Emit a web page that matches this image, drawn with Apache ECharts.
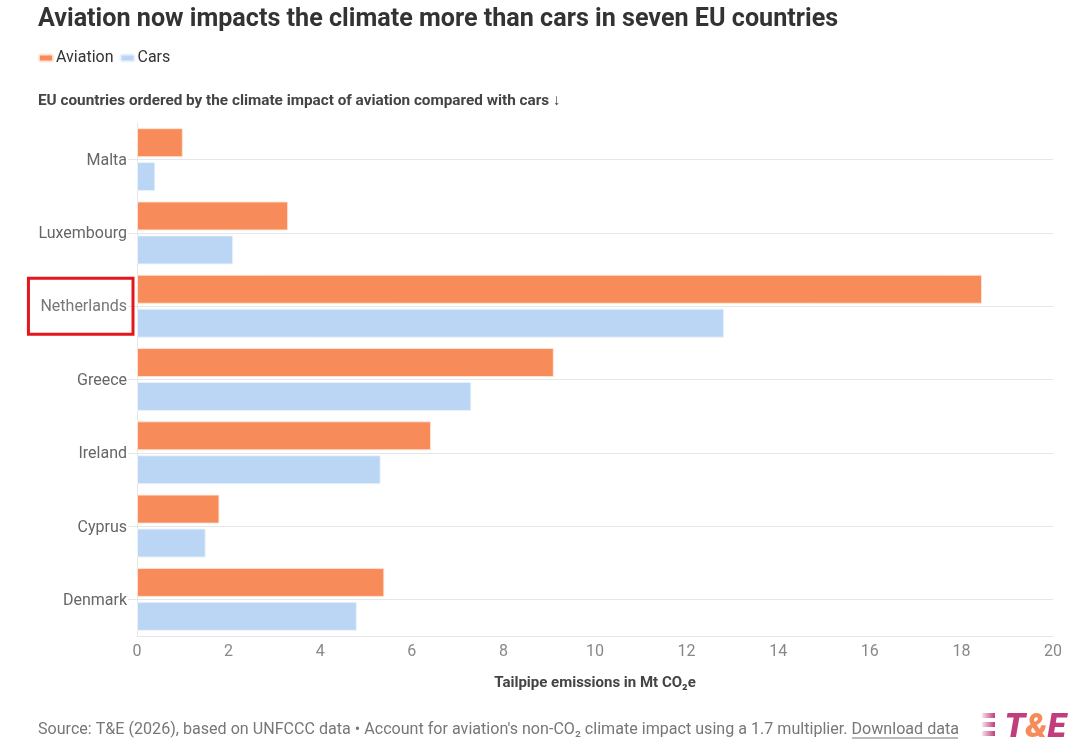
<!DOCTYPE html>
<html><head><meta charset="utf-8">
<script src="https://cdn.jsdelivr.net/npm/echarts@6/dist/echarts.min.js"></script>
<style>html,body{margin:0;padding:0;background:#fff}#c{width:1087px;height:754px}</style>
</head><body><div id="c"></div>
<script>
const countries = ['Malta','Luxembourg','Netherlands','Greece','Ireland','Cyprus','Denmark'];
const aviation = [1.0, 3.3, 18.45, 9.1, 6.42, 1.8, 5.4];
const cars = [0.4, 2.1, 12.82, 7.3, 5.32, 1.5, 4.8];
const highlighted = 'Netherlands';
const xTicks = {min: 0, max: 20, interval: 2};

const chart = echarts.init(document.getElementById('c'));
const F = 'Roboto, "Noto Sans", sans-serif';
const stripe = () => new echarts.graphic.LinearGradient(0,0,1,0,[{offset:0,color:'rgba(193,61,124,0.15)'},{offset:1,color:'#c13d7c'}]);
chart.setOption({
  backgroundColor: '#fff',
  animation: false,
  textStyle: {fontFamily: F},
  title: [
    {text: 'Aviation now impacts the climate more than cars in seven EU countries', left: 38, top: 7, padding: 0,
     textStyle: {fontFamily: F, fontSize: 25.15, fontWeight: 'bold', color: '#333'}},
    {text: 'EU countries ordered by the climate impact of aviation compared with cars ↓', left: 38, top: 94, padding: 0,
     textStyle: {fontFamily: F, fontSize: 15.3, fontWeight: 'bold', color: '#444'}},
    {text: 'Source: T&E (2026), based on UNFCCC data • Account for aviation\'s non-CO₂ climate impact using a 1.7 multiplier. Download data',
     left: 38, top: 722, padding: 0, textStyle: {fontFamily: F, fontSize: 16.1, fontWeight: 'normal', color: '#777'}},
    {text: '{t|T}{a|&}{t|E}', right: 21, top: 711, padding: 0,
     textStyle: {rich: {
       t: {fontFamily: F, fontSize: 34, fontWeight: 900, fontStyle: 'italic', color: '#c13d7c'},
       a: {fontFamily: F, fontSize: 34, fontWeight: 900, fontStyle: 'italic', color: '#f78b5a'}
     }}}
  ],
  graphic: [
    {type: 'line', shape: {x1: 852, y1: 738, x2: 958, y2: 738}, style: {stroke: '#777', lineWidth: 1}},
    {type: 'rect', shape: {x: 982, y: 713, width: 13, height: 5}, style: {fill: stripe()}},
    {type: 'rect', shape: {x: 982, y: 722, width: 13, height: 5}, style: {fill: stripe()}},
    {type: 'rect', shape: {x: 982, y: 731, width: 13, height: 5}, style: {fill: stripe()}}
  ],
  legend: {
    left: 38, top: 50, padding: 0, itemWidth: 14, itemHeight: 7, itemGap: 6, icon: 'roundRect',
    textStyle: {fontFamily: F, fontSize: 16, color: '#333', padding: [0,0,0,-2]},
    data: ['Aviation','Cars']
  },
  grid: {left: 137, right: 34, top: 123, bottom: 118, containLabel: false},
  xAxis: {
    type: 'value', min: xTicks.min, max: xTicks.max, interval: xTicks.interval,
    name: 'Tailpipe emissions in Mt CO₂e', nameLocation: 'middle', nameGap: 40,
    nameTextStyle: {fontFamily: F, fontSize: 15, fontWeight: 'bold', color: '#444'},
    axisLine: {show: true, lineStyle: {color: '#e6e6e6'}},
    axisTick: {show: false},
    splitLine: {show: false},
    axisLabel: {fontFamily: F, fontSize: 16, color: '#888', margin: 8}
  },
  yAxis: {
    type: 'category', inverse: true, data: countries,
    axisLine: {show: true, lineStyle: {color: '#e6e6e6'}},
    axisTick: {show: true, alignWithLabel: true, length: 9, lineStyle: {color: '#e6e6e6'}},
    splitLine: {show: true, alignWithLabel: true, lineStyle: {color: '#e6e6e6'}},
    axisLabel: {
      margin: 4,
      formatter: v => v === highlighted ? '{box|' + v + '}' : '{n|' + v + '}',
      rich: {
        n: {fontFamily: F, fontSize: 16, color: '#666', padding: [3, 6, 0, 0]},
        box: {fontFamily: F, fontSize: 16, color: '#777', padding: [21, 6, 19, 12],
              borderColor: '#e3161b', borderWidth: 3}
      }
    }
  },
  series: [
    {name: 'Aviation', type: 'bar', data: aviation, barWidth: 29, barGap: '17%',
     itemStyle: {color: '#f78b5a', borderColor: 'rgba(255,230,215,0.9)', borderWidth: 1}},
    {name: 'Cars', type: 'bar', data: cars, barWidth: 29, barGap: '17%',
     itemStyle: {color: '#bbd6f4', borderColor: 'rgba(235,243,253,0.9)', borderWidth: 1}}
  ]
});
</script></body></html>
